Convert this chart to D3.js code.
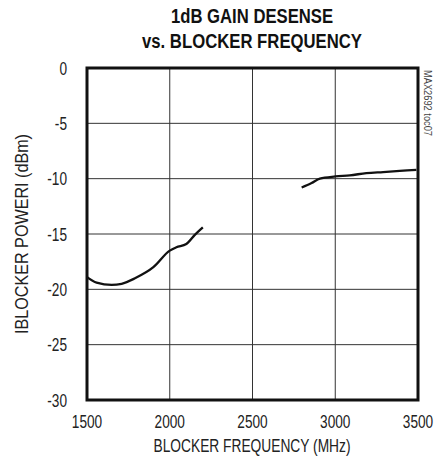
<!DOCTYPE html>
<html>
<head>
<meta charset="utf-8">
<script src="https://cdn.jsdelivr.net/npm/d3@7"></script>
<style>
  body { margin: 0; background: #fff; }
  svg text { font-family: "Liberation Sans", Arial, sans-serif; }
</style>
</head>
<body>
<div id="chart"></div>
<script>
// curve below 2200 MHz
const lowFreq = [1500, 1558, 1649, 1709, 1790, 1901, 2000, 2040, 2100, 2150, 2200];
const lowPower = [-18.9, -19.4, -19.6, -19.5, -19.0, -18.0, -16.5, -16.2, -15.9, -15.1, -14.4];
// curve above 2800 MHz
const highFreq = [2797, 2857, 2907, 3001, 3088, 3188, 3289, 3390, 3490];
const highPower = [-10.8, -10.4, -10.0, -9.8, -9.7, -9.5, -9.4, -9.3, -9.2];

const xTicks = [1500, 2000, 2500, 3000, 3500];
const yTicks = [0, -5, -10, -15, -20, -25, -30];

const W = 438, H = 463;
const margin = {left: 87, right: 20, top: 68, bottom: 63};
const narrow = 0.78; // squeeze to look like a condensed face

const svg = d3.select("#chart").append("svg")
    .attr("width", W).attr("height", H);

const x = d3.scaleLinear().domain([1500, 3500]).range([margin.left, W - margin.right]);
const y = d3.scaleLinear().domain([-30, 0]).range([H - margin.bottom, margin.top]);

/**
 * Puts a narrow text at (px,py), optional rotation and fixed width
 */
function label(px, py, str, size, anchor, opts){
    opts = opts || {};
    let t = svg.append("text")
        .attr("transform", `translate(${px},${py}) rotate(${opts.rotate || 0}) scale(${opts.width ? 1 : narrow},1)`)
        .attr("text-anchor", anchor)
        .style("font-size", size + "px")
        .attr("fill", opts.fill || "#222")
        .text(str);
    if(opts.bold){
        t.style("font-weight", "bold");
    }
    if(opts.width){
        t.attr("textLength", opts.width).attr("lengthAdjust", "spacingAndGlyphs");
        // textLength positions from the anchor, so shift for middle
        if(anchor == "middle"){
            t.attr("text-anchor", "start").attr("x", -opts.width / 2);
        }
    }
    return t;
}

// title
label(252, 23, "1dB GAIN DESENSE", 20, "middle", {bold: true, width: 162, fill: "#111"});
label(252, 48, "vs. BLOCKER FREQUENCY", 20, "middle", {bold: true, width: 220, fill: "#111"});

// grid
svg.append("g").selectAll("line").data(xTicks.slice(1, -1)).join("line")
    .attr("x1", d => x(d)).attr("x2", d => x(d))
    .attr("y1", y(0)).attr("y2", y(-30))
    .attr("stroke", "#333").attr("stroke-width", 1);
svg.append("g").selectAll("line").data(yTicks.slice(1, -1)).join("line")
    .attr("x1", x(1500)).attr("x2", x(3500))
    .attr("y1", d => y(d)).attr("y2", d => y(d))
    .attr("stroke", "#333").attr("stroke-width", 1);

// frame
svg.append("rect")
    .attr("x", x(1500)).attr("y", y(0))
    .attr("width", x(3500) - x(1500)).attr("height", y(-30) - y(0))
    .attr("fill", "none").attr("stroke", "#111").attr("stroke-width", 3);

// tick labels
for(let t of xTicks){
    label(x(t), y(-30) + 28, t, 17.5, "middle");
}
for(let t of yTicks){
    label(67, y(t) + 6.5, t, 17.5, "end");
}

// axis titles
label(252, 452, "BLOCKER FREQUENCY (MHz)", 17.5, "middle", {width: 197});
label(28, (y(0) + y(-30)) / 2, "IBLOCKER POWERI (dBm)", 17.5, "middle", {width: 200, rotate: -90});

// part number tag
label(424, y(0) + 2, "MAX2692 toc07", 10, "start", {width: 66, rotate: 90, fill: "#444"});

// curves
const line = d3.line().x(d => x(d[0])).y(d => y(d[1])).curve(d3.curveMonotoneX);
svg.append("path").attr("d", line(d3.zip(lowFreq, lowPower)))
    .attr("fill", "none").attr("stroke", "#111").attr("stroke-width", 2.3);
svg.append("path").attr("d", line(d3.zip(highFreq, highPower)))
    .attr("fill", "none").attr("stroke", "#111").attr("stroke-width", 2.3);
</script>
</body>
</html>
